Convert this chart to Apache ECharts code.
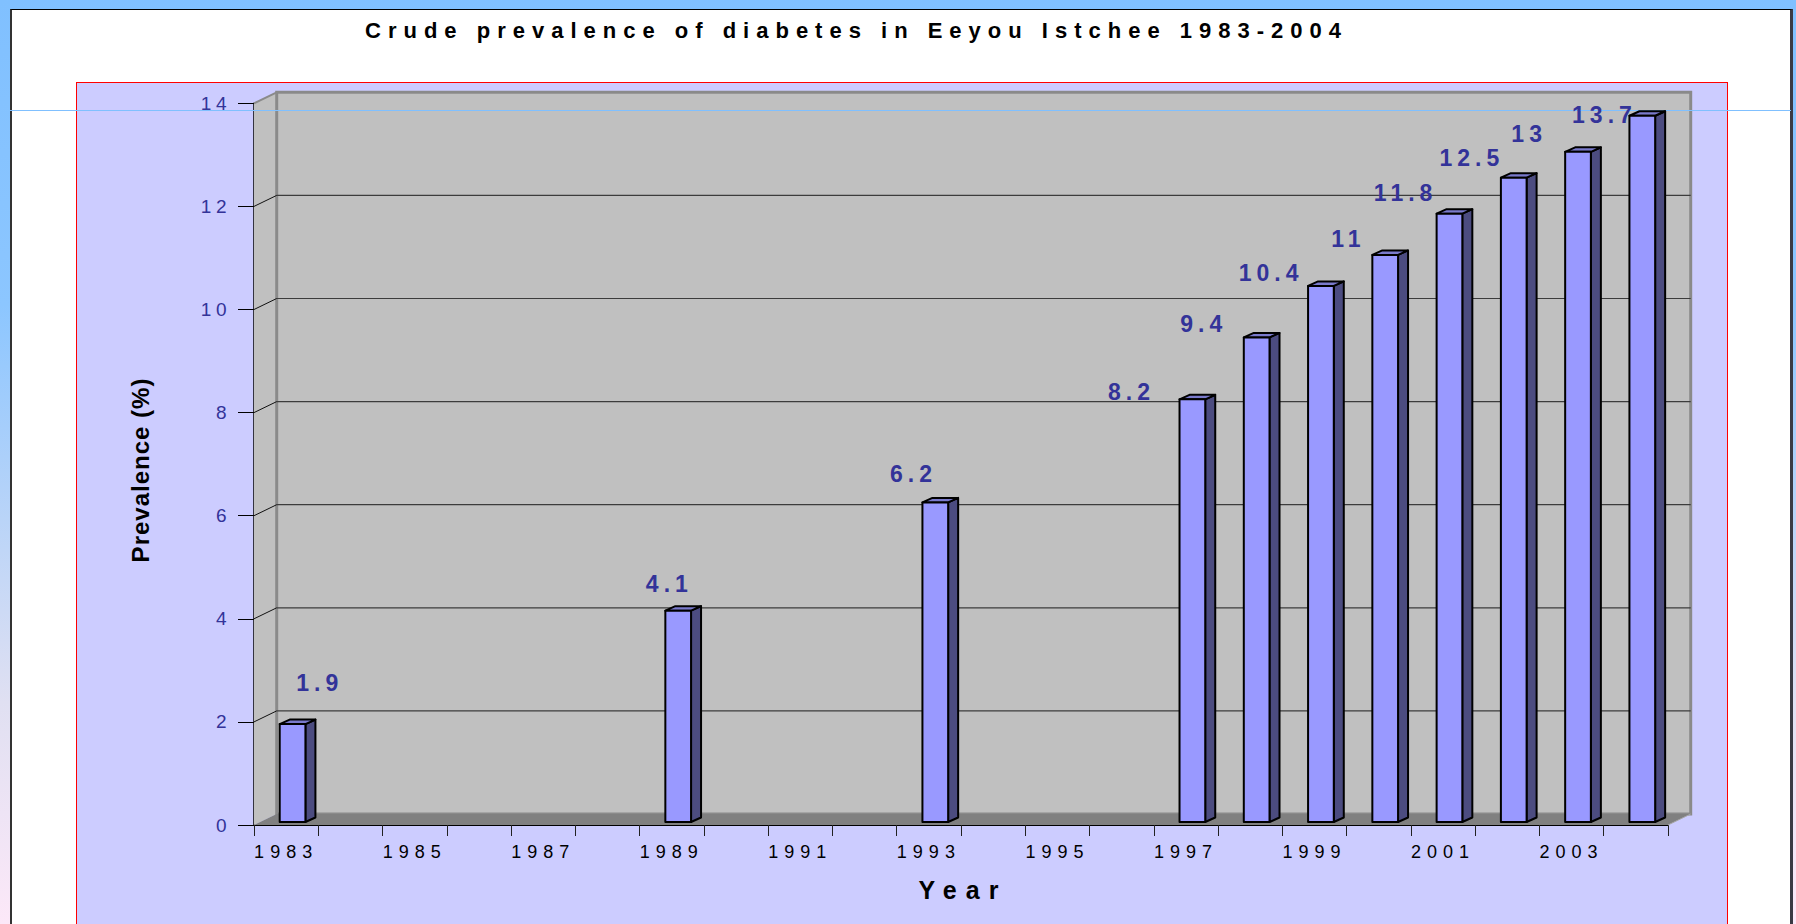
<!DOCTYPE html>
<html>
<head>
<meta charset="utf-8">
<title>Crude prevalence of diabetes in Eeyou Istchee 1983-2004</title>
<script src="https://cdn.jsdelivr.net/npm/echarts@6/dist/echarts.min.js"></script>
<style>
  html, body { margin: 0; padding: 0; }
  body {
    width: 1796px; height: 924px; overflow: hidden; position: relative;
    background: linear-gradient(to bottom, #80c0ff 0%, #8cc6ff 33%, #e0e0f2 76%, #fce8f8 100%);
    font-family: "Liberation Sans", Arial, sans-serif;
  }
  .sheet {
    position: absolute; left: 10px; top: 9px; width: 1778px; height: 930px;
    background: #ffffff; border-top: 1px solid #000; border-left: 2px solid #333;
    border-right: 3px solid #3a3a44;
  }
  .plot {
    position: absolute; left: 76px; top: 82px; width: 1650px; height: 860px;
    background: #ccccff; border: 1.5px solid #ff0000;
  }
  #chart { position: absolute; left: 0; top: 0; width: 1796px; height: 924px; }
</style>
</head>
<body>
<div class="sheet"></div>
<div class="plot"></div>
<div id="chart"></div>
<script>
// Survey years on the category axis
const years = ['1983', '1984', '1985', '1986', '1987', '1988', '1989', '1990', '1991', '1992', '1993',
               '1994', '1995', '1996', '1997', '1998', '1999', '2000', '2001', '2002', '2003', '2004'];
// Years with a measured prevalence, and the crude prevalence (%) for each
const surveyYears = ['1983', '1989', '1993', '1997', '1998', '1999', '2000', '2001', '2002', '2003', '2004'];
const prevalence  = [1.9, 4.1, 6.2, 8.2, 9.4, 10.4, 11, 11.8, 12.5, 13, 13.7];
// Value-axis ticks
const yTicks = [0, 2, 4, 6, 8, 10, 12, 14];

// Hand-placed value labels: extra [dx, dy] in px from the default spot above-left of each bar
const labelNudge = [[70, -23], [34, -9], [21, -10], [-18, 11], [-10, 5], [-7, 5],
                    [6, 2], [-1, -3], [1, -2], [-6, 0], [5, 17]];

const FONT = '"Liberation Sans", Arial, sans-serif';
// Depth of the walls (pseudo 3-D) and of each bar
const WALL_DX = 22.7, WALL_DY = 11;
const BAR_DX = 10, BAR_DY = 4.5, BAR_LIFT = 3;
const BAR_OFFSET = 0.40, BAR_WIDTH = 0.40;

const barData = surveyYears.map((y, i) => [years.indexOf(y), prevalence[i], i]);

function renderFrame(params, api) {
  const cs = params.coordSys;
  const xL = cs.x, xR = cs.x + cs.width, yT = cs.y, yB = cs.y + cs.height;
  const kids = [];
  // left side wall
  kids.push({ type: 'polygon', shape: { points: [[xL, yB], [xL, yT], [xL + WALL_DX, yT - WALL_DY], [xL + WALL_DX, yB - WALL_DY]] },
              style: { fill: '#c0c0c0' } });
  // back wall
  kids.push({ type: 'rect', shape: { x: xL + WALL_DX, y: yT - WALL_DY, width: cs.width, height: cs.height },
              style: { fill: '#c0c0c0', stroke: '#8a8a8a', lineWidth: 3 } });
  // gridlines on the back wall and their slants across the side wall
  yTicks.forEach(v => {
    if (v === yTicks[0] || v === yTicks[yTicks.length - 1]) return;
    const y = api.coord([0, v])[1];
    kids.push({ type: 'line', shape: { x1: xL + WALL_DX, y1: y - WALL_DY, x2: xR + WALL_DX, y2: y - WALL_DY },
                style: { stroke: '#3c3c3c', lineWidth: 1.2 } });
    kids.push({ type: 'line', shape: { x1: xL, y1: y, x2: xL + WALL_DX, y2: y - WALL_DY },
                style: { stroke: '#111', lineWidth: 1 } });
  });
  // floor
  kids.push({ type: 'polygon', shape: { points: [[xL, yB], [xL + WALL_DX, yB - WALL_DY], [xR + WALL_DX, yB - WALL_DY], [xR, yB]] },
              style: { fill: '#808080' } });
  // top edge of the side wall, right edge of the floor
  kids.push({ type: 'line', shape: { x1: xL, y1: yT, x2: xL + WALL_DX, y2: yT - WALL_DY },
              style: { stroke: '#8a8a8a', lineWidth: 2 } });
  kids.push({ type: 'line', shape: { x1: xR, y1: yB, x2: xR + WALL_DX, y2: yB - WALL_DY },
              style: { stroke: '#a8a8a8', lineWidth: 1 } });
  return { type: 'group', children: kids };
}

function renderBar(params, api) {
  const idx = api.value(0), v = api.value(1), k = api.value(2);
  const band = api.size([1, 0])[0];
  const c = api.coord([idx, v]);
  const c0 = api.coord([idx, 0]);
  const left = c[0] - band / 2 + band * BAR_OFFSET;
  const w = band * BAR_WIDTH;
  const top = c[1] - BAR_LIFT, bot = c0[1] - BAR_LIFT;
  const edge = { stroke: '#000', lineWidth: 2, lineJoin: 'round' };
  const nudge = labelNudge[k] || [0, 0];
  return {
    type: 'group',
    children: [
      { type: 'polygon', shape: { points: [[left + w, bot], [left + w, top], [left + w + BAR_DX, top - BAR_DY], [left + w + BAR_DX, bot - BAR_DY]] },
        style: Object.assign({ fill: '#4c4c80' }, edge) },
      { type: 'polygon', shape: { points: [[left, top], [left + BAR_DX, top - BAR_DY], [left + w + BAR_DX, top - BAR_DY], [left + w, top]] },
        style: Object.assign({ fill: '#7a7acc' }, edge) },
      { type: 'rect', shape: { x: left, y: top, width: w, height: bot - top },
        style: Object.assign({ fill: '#9999ff' }, edge) },
      { type: 'text', x: left - 30 + nudge[0], y: top - 18 + nudge[1], z2: 10,
        style: { text: String(v), fill: '#333399', font: 'bold 23px ' + FONT, align: 'center', verticalAlign: 'middle' } }
    ]
  };
}

const chart = echarts.init(document.getElementById('chart'), null, { renderer: 'svg' });
chart.setOption({
  animation: false,
  backgroundColor: 'transparent',
  grid: { left: 254, right: 128, top: 103.3, bottom: 99 },
  xAxis: {
    type: 'category', data: years, boundaryGap: true,
    axisLine: { show: true, lineStyle: { color: '#000', width: 1 } },
    axisTick: { show: true, interval: 0, length: 11, lineStyle: { color: '#222', width: 1 } },
    axisLabel: { interval: 1, color: '#000', fontSize: 18, fontFamily: FONT, margin: 18 },
    splitLine: { show: false }
  },
  yAxis: {
    type: 'value', min: yTicks[0], max: yTicks[yTicks.length - 1], interval: yTicks[1] - yTicks[0],
    axisLine: { show: true, lineStyle: { color: '#000', width: 1.5 } },
    axisTick: { show: true, length: 16, lineStyle: { color: '#000', width: 1 } },
    axisLabel: { color: '#333399', fontSize: 19, fontFamily: FONT, margin: 23 },
    splitLine: { show: false }
  },
  graphic: {
    elements: [
      { type: 'text', x: 856.5, y: 30, z: 5,
        style: { text: 'Crude prevalence of diabetes in Eeyou Istchee 1983-2004', fill: '#000',
                 font: 'bold 22px ' + FONT, align: 'center', verticalAlign: 'middle' } },
      { type: 'text', x: 963, y: 890, z: 5,
        style: { text: 'Year', fill: '#000', font: 'bold 25px ' + FONT, align: 'center', verticalAlign: 'middle' } },
      { type: 'text', x: 140, y: 470, rotation: Math.PI / 2, z: 5,
        style: { text: 'Prevalence (%)', fill: '#000', font: 'bold 24px ' + FONT, align: 'center', verticalAlign: 'middle' } },
      { type: 'line', z: 2, shape: { x1: 10, y1: 110.5, x2: 1791, y2: 110.5 },
        style: { stroke: '#80c0ff', lineWidth: 1 } }
    ]
  },
  series: [
    { type: 'custom', name: 'frame', z: 1, silent: true, data: [[0, 0]], renderItem: renderFrame, clip: false },
    { type: 'custom', name: 'Prevalence', z: 3, silent: true, data: barData,
      encode: { x: 0, y: 1 }, renderItem: renderBar, clip: false }
  ]
});

// Tracking (letter spacing) for each text size used in the chart
const TRACKING = { '22px': 7.0, '25px': 9, '23px': 5, '18px': 6, '19px': 4.5, '24px': 1.0 };
function applyTracking() {
  document.querySelectorAll('#chart svg text').forEach(t => {
    const fs = getComputedStyle(t).fontSize;
    if (fs in TRACKING) t.style.letterSpacing = TRACKING[fs] + 'px';
  });
}
chart.on('finished', applyTracking);
applyTracking();
requestAnimationFrame(applyTracking);
setTimeout(applyTracking, 50);
</script>
</body>
</html>
